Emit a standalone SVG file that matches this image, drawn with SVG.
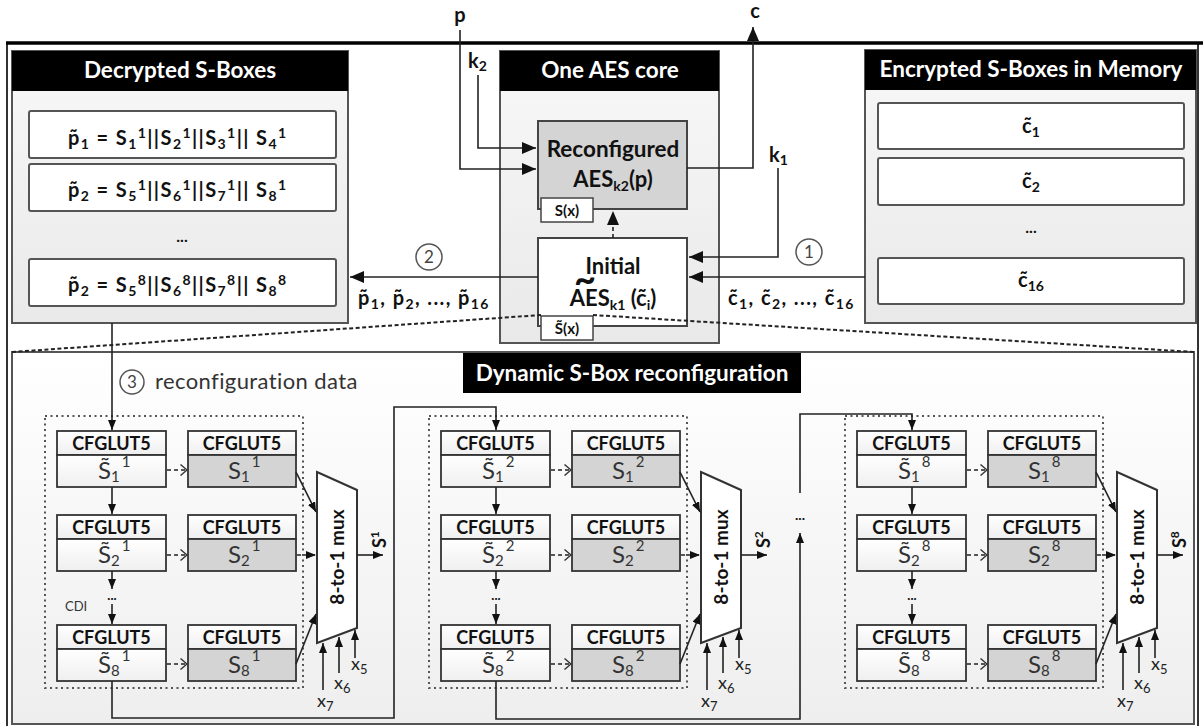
<svg xmlns="http://www.w3.org/2000/svg" width="1203" height="726" viewBox="0 0 1203 726">
<defs>
<linearGradient id="gp" x1="0" y1="0" x2="0" y2="1"><stop offset="0" stop-color="#f8f8f8"/><stop offset="1" stop-color="#e9e9e9"/></linearGradient>
<linearGradient id="gb" x1="0" y1="0" x2="0" y2="1"><stop offset="0" stop-color="#ffffff"/><stop offset="1" stop-color="#eeeeee"/></linearGradient>
<linearGradient id="gw" x1="0" y1="0" x2="0" y2="1"><stop offset="0" stop-color="#ffffff"/><stop offset="1" stop-color="#efefef"/></linearGradient>
<marker id="aL" viewBox="0 0 14 12" refX="14" refY="6" markerWidth="14" markerHeight="12" markerUnits="userSpaceOnUse" orient="auto"><path d="M0,0 L14,6 L0,12 z" fill="#111"/></marker>
<marker id="aS" viewBox="0 0 10 8" refX="10" refY="4" markerWidth="10" markerHeight="8" markerUnits="userSpaceOnUse" orient="auto"><path d="M0,0 L10,4 L0,8 z" fill="#111"/></marker>
<marker id="aO" viewBox="0 0 8 12" refX="7" refY="6" markerWidth="8" markerHeight="12" markerUnits="userSpaceOnUse" orient="auto"><path d="M0.5,0.5 L7,6 L0.5,11.5" fill="none" stroke="#333" stroke-width="1.4"/></marker>
<style>
.pan{fill:url(#gp);stroke:#555;stroke-width:2}
.bot{fill:url(#gb);stroke:#555;stroke-width:2}
.hd{fill:#000}
.ht{font-family:Lato,"Liberation Sans",sans-serif;font-weight:700;font-size:22.5px;fill:#fff;text-anchor:middle}
.row{fill:#fff;stroke:#555;stroke-width:2}
.bt{font-family:Lato,"Liberation Sans",sans-serif;font-weight:700;fill:#111}
.fm{font-size:20px;letter-spacing:1.4px}
.m{text-anchor:middle}
.sb{font-size:14px}
.ln{fill:none;stroke:#222;stroke-width:1.6}
.dl{fill:none;stroke:#222;stroke-width:1.6;stroke-dasharray:4 3}
.zl{fill:none;stroke:#222;stroke-width:2;stroke-dasharray:4 2.5}
.dot{fill:none;stroke:#555;stroke-width:2;stroke-dasharray:2 3.5}
.lw{fill:url(#gw);stroke:#333;stroke-width:1.8}
.lg{fill:#d4d4d4;stroke:#333;stroke-width:1.8}
.cfg{font-family:Lato,"Liberation Sans",sans-serif;font-weight:700;font-size:18px;fill:#111;text-anchor:middle}
.mx{font-family:Lato,"Liberation Sans",sans-serif;font-weight:700;font-size:19px;fill:#111;text-anchor:middle}
.sv{font-family:Lato,"Liberation Sans",sans-serif;font-weight:400;font-size:24px;fill:#333}
.ss{font-size:15px}
.mux{fill:#fff;stroke:#333;stroke-width:2}
.xl{font-family:Lato,"Liberation Sans",sans-serif;font-size:18px;fill:#222}
.xs{font-size:13px}
.cn{fill:#fff;stroke:#555;stroke-width:1.5}
.cd{font-family:Lato,"Liberation Sans",sans-serif;font-size:17px;fill:#444;text-anchor:middle}
.rg{font-family:Lato,"Liberation Sans",sans-serif;fill:#333}
</style>
</defs>

<!-- outer frame -->
<path d="M7,726 V43 M1198,43 V726" fill="none" stroke="#333" stroke-width="2"/>
<path d="M6,43 H1203" stroke="#000" stroke-width="3.5"/>

<g id="decrypted">
<rect class="pan" x="12" y="51" width="336" height="272"/>
<rect class="hd" x="12" y="51" width="336" height="40"/>
<text class="ht" x="180" y="78">Decrypted S-Boxes</text>
<rect class="row" x="29" y="111" width="307" height="47" rx="2"/>
<rect class="row" x="29" y="164" width="307" height="47" rx="2"/>
<rect class="row" x="29" y="259" width="307" height="47" rx="2"/>
<text class="bt fm" x="68" y="145">p&#x303;<tspan class="sb" dy="4">1</tspan><tspan dy="-4"> = S</tspan><tspan class="sb" dy="4">1</tspan><tspan class="sb" dy="-11">1</tspan><tspan dy="7">||S</tspan><tspan class="sb" dy="4">2</tspan><tspan class="sb" dy="-11">1</tspan><tspan dy="7">||S</tspan><tspan class="sb" dy="4">3</tspan><tspan class="sb" dy="-11">1</tspan><tspan dy="7">|| S</tspan><tspan class="sb" dy="4">4</tspan><tspan class="sb" dy="-11">1</tspan></text>
<text class="bt fm" x="68" y="197">p&#x303;<tspan class="sb" dy="4">2</tspan><tspan dy="-4"> = S</tspan><tspan class="sb" dy="4">5</tspan><tspan class="sb" dy="-11">1</tspan><tspan dy="7">||S</tspan><tspan class="sb" dy="4">6</tspan><tspan class="sb" dy="-11">1</tspan><tspan dy="7">||S</tspan><tspan class="sb" dy="4">7</tspan><tspan class="sb" dy="-11">1</tspan><tspan dy="7">|| S</tspan><tspan class="sb" dy="4">8</tspan><tspan class="sb" dy="-11">1</tspan></text>
<text class="bt m" x="182" y="242" font-size="16">...</text>
<text class="bt fm" x="68" y="292">p&#x303;<tspan class="sb" dy="4">2</tspan><tspan dy="-4"> = S</tspan><tspan class="sb" dy="4">5</tspan><tspan class="sb" dy="-11">8</tspan><tspan dy="7">||S</tspan><tspan class="sb" dy="4">6</tspan><tspan class="sb" dy="-11">8</tspan><tspan dy="7">||S</tspan><tspan class="sb" dy="4">7</tspan><tspan class="sb" dy="-11">8</tspan><tspan dy="7">|| S</tspan><tspan class="sb" dy="4">8</tspan><tspan class="sb" dy="-11">8</tspan></text>
</g>

<g id="aescore">
<rect class="pan" x="500" y="51" width="219" height="292"/>
<rect class="hd" x="500" y="51" width="219" height="40"/>
<text class="ht" x="610" y="78">One AES core</text>
</g>

<g id="reconfigured">
<rect x="538" y="121" width="149" height="88" fill="#d4d4d4" stroke="#444" stroke-width="2"/>
<text class="bt m" x="613" y="157" font-size="22.5">Reconfigured</text>
<text class="bt m" x="613" y="187" font-size="22">AES<tspan class="sb" dy="4">k2</tspan><tspan dy="-4">(p)</tspan></text>
<rect x="541" y="198" width="52" height="24" fill="#fff" stroke="#444" stroke-width="1.5"/>
<text class="bt m" x="567" y="216" font-size="15" fill="#222">S(x)</text>
</g>

<g id="initial">
<rect x="538" y="238" width="149" height="88" fill="#fff" stroke="#444" stroke-width="2"/>
<text class="bt m" x="613" y="274" font-size="22">Initial</text>
<text class="bt m" x="585" y="293" font-size="38">~</text>
<text class="bt m" x="613" y="306" font-size="22">AES<tspan class="sb" dy="4">k1</tspan><tspan dy="-4"> (c&#x303;</tspan><tspan class="sb" dy="4">i</tspan><tspan dy="-4">)</tspan></text>
<rect x="541" y="316" width="52" height="24" fill="#fff" stroke="#444" stroke-width="1.5"/>
<text class="bt m" x="567" y="334" font-size="15" fill="#222">S&#x303;(x)</text>
</g>

<g id="encrypted">
<rect class="pan" x="865" y="50" width="331" height="273"/>
<rect class="hd" x="865" y="50" width="331" height="40"/>
<text class="ht" x="1031" y="77">Encrypted S-Boxes in Memory</text>
<rect class="row" x="878" y="103" width="306" height="46" rx="2"/>
<rect class="row" x="878" y="158" width="306" height="47" rx="2"/>
<rect class="row" x="878" y="258" width="306" height="46" rx="2"/>
<text class="bt m" x="1031" y="133" font-size="20">c&#x303;<tspan class="sb" dy="4">1</tspan></text>
<text class="bt m" x="1031" y="188" font-size="20">c&#x303;<tspan class="sb" dy="4">2</tspan></text>
<text class="bt m" x="1031" y="233" font-size="16">...</text>
<text class="bt m" x="1031" y="287" font-size="20">c&#x303;<tspan class="sb" dy="4">16</tspan></text>
</g>

<g id="dynamic">
<rect class="bot" x="12" y="352" width="1182" height="372"/>
<rect class="hd" x="463" y="353" width="338" height="40"/>
<text class="ht" x="632" y="381">Dynamic S-Box reconfiguration</text>
</g>

<g id="labels">
<text class="bt m" x="460" y="22" font-size="20">p</text>
<text class="bt" x="468" y="68" font-size="20">k<tspan class="sb" dy="3">2</tspan></text>
<text class="bt m" x="755" y="18" font-size="20">c</text>
<text class="bt" x="769" y="162" font-size="20">k<tspan class="sb" dy="3">1</tspan></text>
<circle class="cn" cx="809" cy="252" r="13"/><text class="cd" x="809" y="258">1</text>
<circle class="cn" cx="429" cy="257" r="13"/><text class="cd" x="429" y="263">2</text>
<text class="bt fm" x="358" y="305">p&#x303;<tspan class="sb" dy="4">1</tspan><tspan dy="-4">, p&#x303;</tspan><tspan class="sb" dy="4">2</tspan><tspan dy="-4">, ..., p&#x303;</tspan><tspan class="sb" dy="4">16</tspan></text>
<text class="bt fm" x="728" y="305">c&#x303;<tspan class="sb" dy="4">1</tspan><tspan dy="-4">, c&#x303;</tspan><tspan class="sb" dy="4">2</tspan><tspan dy="-4">, ..., c&#x303;</tspan><tspan class="sb" dy="4">16</tspan></text>
<circle class="cn" cx="132" cy="382" r="12"/><text class="cd" x="132" y="388">3</text>
<text class="rg" x="155" y="389" font-size="22" letter-spacing="0.4">reconfiguration data</text>
</g>

<!-- stage 1 -->
<g id="stage1">
<rect class="dot" x="45" y="416" width="258" height="272"/>
<g id="s1-a1"><rect class="lw" x="57" y="431" width="109" height="24"/><rect class="lw" x="57" y="455" width="109" height="32"/><text class="cfg" x="111.5" y="450">CFGLUT5</text><text class="sv" x="98" y="479">S&#x303;<tspan class="ss" dy="3">1</tspan><tspan class="ss" dx="2" dy="-15">1</tspan></text></g>
<g id="s1-b1"><rect class="lw" x="188" y="431" width="108" height="24"/><rect class="lg" x="188" y="455" width="108" height="32"/><text class="cfg" x="242" y="450">CFGLUT5</text><text class="sv" x="228" y="479">S<tspan class="ss" dy="3">1</tspan><tspan class="ss" dx="2" dy="-15">1</tspan></text></g>
<g id="s1-a2"><rect class="lw" x="57" y="515" width="109" height="24"/><rect class="lw" x="57" y="539" width="109" height="32"/><text class="cfg" x="111.5" y="534">CFGLUT5</text><text class="sv" x="98" y="563">S&#x303;<tspan class="ss" dy="3">2</tspan><tspan class="ss" dx="2" dy="-15">1</tspan></text></g>
<g id="s1-b2"><rect class="lw" x="188" y="515" width="108" height="24"/><rect class="lg" x="188" y="539" width="108" height="32"/><text class="cfg" x="242" y="534">CFGLUT5</text><text class="sv" x="228" y="563">S<tspan class="ss" dy="3">2</tspan><tspan class="ss" dx="2" dy="-15">1</tspan></text></g>
<g id="s1-a8"><rect class="lw" x="57" y="625" width="109" height="24"/><rect class="lw" x="57" y="649" width="109" height="32"/><text class="cfg" x="111.5" y="644">CFGLUT5</text><text class="sv" x="98" y="673">S&#x303;<tspan class="ss" dy="3">8</tspan><tspan class="ss" dx="2" dy="-15">1</tspan></text></g>
<g id="s1-b8"><rect class="lw" x="188" y="625" width="108" height="24"/><rect class="lg" x="188" y="649" width="108" height="32"/><text class="cfg" x="242" y="644">CFGLUT5</text><text class="sv" x="228" y="673">S<tspan class="ss" dy="3">8</tspan><tspan class="ss" dx="2" dy="-15">1</tspan></text></g>
<g id="s1-mux"><polygon class="mux" points="317,472 357,490 357,628 317,643"/><text class="mx" transform="translate(344,557) rotate(-90)">8-to-1 mux</text></g>
<text class="bt" font-size="18" transform="translate(386,548) rotate(-90)">S<tspan font-size="12" dy="-7">1</tspan></text>
<text class="xl" x="351" y="670">x<tspan class="xs" dy="4">5</tspan></text>
<text class="xl" x="334" y="689">x<tspan class="xs" dy="4">6</tspan></text>
<text class="xl" x="317" y="707">x<tspan class="xs" dy="4">7</tspan></text>
<text class="rg" x="65" y="611" font-size="13" fill="#555">CDI</text>
</g>

<!-- stage 2 -->
<g id="stage2" transform="translate(384,0)">
<rect class="dot" x="45" y="416" width="258" height="272"/>
<g id="s2-a1"><rect class="lw" x="57" y="431" width="109" height="24"/><rect class="lw" x="57" y="455" width="109" height="32"/><text class="cfg" x="111.5" y="450">CFGLUT5</text><text class="sv" x="98" y="479">S&#x303;<tspan class="ss" dy="3">1</tspan><tspan class="ss" dx="2" dy="-15">2</tspan></text></g>
<g id="s2-b1"><rect class="lw" x="188" y="431" width="108" height="24"/><rect class="lg" x="188" y="455" width="108" height="32"/><text class="cfg" x="242" y="450">CFGLUT5</text><text class="sv" x="228" y="479">S<tspan class="ss" dy="3">1</tspan><tspan class="ss" dx="2" dy="-15">2</tspan></text></g>
<g id="s2-a2"><rect class="lw" x="57" y="515" width="109" height="24"/><rect class="lw" x="57" y="539" width="109" height="32"/><text class="cfg" x="111.5" y="534">CFGLUT5</text><text class="sv" x="98" y="563">S&#x303;<tspan class="ss" dy="3">2</tspan><tspan class="ss" dx="2" dy="-15">2</tspan></text></g>
<g id="s2-b2"><rect class="lw" x="188" y="515" width="108" height="24"/><rect class="lg" x="188" y="539" width="108" height="32"/><text class="cfg" x="242" y="534">CFGLUT5</text><text class="sv" x="228" y="563">S<tspan class="ss" dy="3">2</tspan><tspan class="ss" dx="2" dy="-15">2</tspan></text></g>
<g id="s2-a8"><rect class="lw" x="57" y="625" width="109" height="24"/><rect class="lw" x="57" y="649" width="109" height="32"/><text class="cfg" x="111.5" y="644">CFGLUT5</text><text class="sv" x="98" y="673">S&#x303;<tspan class="ss" dy="3">8</tspan><tspan class="ss" dx="2" dy="-15">2</tspan></text></g>
<g id="s2-b8"><rect class="lw" x="188" y="625" width="108" height="24"/><rect class="lg" x="188" y="649" width="108" height="32"/><text class="cfg" x="242" y="644">CFGLUT5</text><text class="sv" x="228" y="673">S<tspan class="ss" dy="3">8</tspan><tspan class="ss" dx="2" dy="-15">2</tspan></text></g>
<g id="s2-mux"><polygon class="mux" points="317,472 357,490 357,628 317,643"/><text class="mx" transform="translate(344,557) rotate(-90)">8-to-1 mux</text></g>
<text class="bt" font-size="18" transform="translate(386,548) rotate(-90)">S<tspan font-size="12" dy="-7">2</tspan></text>
<text class="xl" x="351" y="670">x<tspan class="xs" dy="4">5</tspan></text>
<text class="xl" x="334" y="689">x<tspan class="xs" dy="4">6</tspan></text>
<text class="xl" x="317" y="707">x<tspan class="xs" dy="4">7</tspan></text>
</g>

<!-- stage 8 -->
<g id="stage8" transform="translate(800,0)">
<rect class="dot" x="45" y="416" width="258" height="272"/>
<g id="s8-a1"><rect class="lw" x="57" y="431" width="109" height="24"/><rect class="lw" x="57" y="455" width="109" height="32"/><text class="cfg" x="111.5" y="450">CFGLUT5</text><text class="sv" x="98" y="479">S&#x303;<tspan class="ss" dy="3">1</tspan><tspan class="ss" dx="2" dy="-15">8</tspan></text></g>
<g id="s8-b1"><rect class="lw" x="188" y="431" width="108" height="24"/><rect class="lg" x="188" y="455" width="108" height="32"/><text class="cfg" x="242" y="450">CFGLUT5</text><text class="sv" x="228" y="479">S<tspan class="ss" dy="3">1</tspan><tspan class="ss" dx="2" dy="-15">8</tspan></text></g>
<g id="s8-a2"><rect class="lw" x="57" y="515" width="109" height="24"/><rect class="lw" x="57" y="539" width="109" height="32"/><text class="cfg" x="111.5" y="534">CFGLUT5</text><text class="sv" x="98" y="563">S&#x303;<tspan class="ss" dy="3">2</tspan><tspan class="ss" dx="2" dy="-15">8</tspan></text></g>
<g id="s8-b2"><rect class="lw" x="188" y="515" width="108" height="24"/><rect class="lg" x="188" y="539" width="108" height="32"/><text class="cfg" x="242" y="534">CFGLUT5</text><text class="sv" x="228" y="563">S<tspan class="ss" dy="3">2</tspan><tspan class="ss" dx="2" dy="-15">8</tspan></text></g>
<g id="s8-a8"><rect class="lw" x="57" y="625" width="109" height="24"/><rect class="lw" x="57" y="649" width="109" height="32"/><text class="cfg" x="111.5" y="644">CFGLUT5</text><text class="sv" x="98" y="673">S&#x303;<tspan class="ss" dy="3">8</tspan><tspan class="ss" dx="2" dy="-15">8</tspan></text></g>
<g id="s8-b8"><rect class="lw" x="188" y="625" width="108" height="24"/><rect class="lg" x="188" y="649" width="108" height="32"/><text class="cfg" x="242" y="644">CFGLUT5</text><text class="sv" x="228" y="673">S<tspan class="ss" dy="3">8</tspan><tspan class="ss" dx="2" dy="-15">8</tspan></text></g>
<g id="s8-mux"><polygon class="mux" points="317,472 357,490 357,628 317,643"/><text class="mx" transform="translate(344,557) rotate(-90)">8-to-1 mux</text></g>
<text class="bt" font-size="18" transform="translate(386,548) rotate(-90)">S<tspan font-size="12" dy="-7">8</tspan></text>
<text class="xl" x="351" y="670">x<tspan class="xs" dy="4">5</tspan></text>
<text class="xl" x="334" y="689">x<tspan class="xs" dy="4">6</tspan></text>
<text class="xl" x="317" y="707">x<tspan class="xs" dy="4">7</tspan></text>
</g>

<g id="connectors">
<path class="ln" d="M460,30 V169 H536" marker-end="url(#aL)"/>
<path class="ln" d="M478,75 V148 H536" marker-end="url(#aL)"/>
<path class="ln" d="M687,168 H753 V27" marker-end="url(#aL)"/>
<path class="ln" d="M778,168 V257 H689" marker-end="url(#aL)"/>
<path class="ln" d="M865,277 H689" marker-end="url(#aL)"/>
<path class="ln" d="M538,277 H350" marker-end="url(#aL)"/>
<path class="dl" d="M613,238 V211" marker-end="url(#aL)"/>
<path class="zl" d="M12,352 L541,315"/>
<path class="zl" d="M593,315 L1194,352"/>
<path class="ln" d="M112,323 V430" marker-end="url(#aS)"/>
<path class="ln" d="M112,681 V718 H394 V407 H496 V430" marker-end="url(#aS)"/>
<path class="ln" d="M496,681 V719 H800 V533" marker-end="url(#aS)"/>
<text class="bt m" x="800" y="520" font-size="14">...</text>
<path class="ln" d="M800,493 V414 H912 V430" marker-end="url(#aS)"/>
<g id="stage-links-1">
<path class="ln" d="M112,487 V514" marker-end="url(#aS)"/>
<path class="ln" d="M112,571 V589" marker-end="url(#aS)"/>
<text class="bt m" x="112" y="600" font-size="13">...</text>
<path class="ln" d="M112,604 V624" marker-end="url(#aS)"/>
<path class="dl" d="M167,470 H187" marker-end="url(#aO)"/>
<path class="dl" d="M167,555 H187" marker-end="url(#aO)"/>
<path class="dl" d="M167,664 H187" marker-end="url(#aO)"/>
<path class="ln" d="M296,472 L316,512" marker-end="url(#aS)"/>
<path class="dl" d="M297,555 H316" marker-end="url(#aS)"/>
<path class="ln" d="M296,664 L316,614" marker-end="url(#aS)"/>
<path class="ln" d="M357,555 H383" marker-end="url(#aS)"/>
<path class="ln" d="M323,690 V643" marker-end="url(#aS)"/>
<path class="ln" d="M339,673 V637" marker-end="url(#aS)"/>
<path class="ln" d="M355,658 V630" marker-end="url(#aS)"/>
</g>
<g id="stage-links-2" transform="translate(384,0)">
<path class="ln" d="M112,487 V514" marker-end="url(#aS)"/>
<path class="ln" d="M112,571 V589" marker-end="url(#aS)"/>
<text class="bt m" x="112" y="600" font-size="13">...</text>
<path class="ln" d="M112,604 V624" marker-end="url(#aS)"/>
<path class="dl" d="M167,470 H187" marker-end="url(#aO)"/>
<path class="dl" d="M167,555 H187" marker-end="url(#aO)"/>
<path class="dl" d="M167,664 H187" marker-end="url(#aO)"/>
<path class="ln" d="M296,472 L316,512" marker-end="url(#aS)"/>
<path class="dl" d="M297,555 H316" marker-end="url(#aS)"/>
<path class="ln" d="M296,664 L316,614" marker-end="url(#aS)"/>
<path class="ln" d="M357,555 H383" marker-end="url(#aS)"/>
<path class="ln" d="M323,690 V643" marker-end="url(#aS)"/>
<path class="ln" d="M339,673 V637" marker-end="url(#aS)"/>
<path class="ln" d="M355,658 V630" marker-end="url(#aS)"/>
</g>
<g id="stage-links-8" transform="translate(800,0)">
<path class="ln" d="M112,487 V514" marker-end="url(#aS)"/>
<path class="ln" d="M112,571 V589" marker-end="url(#aS)"/>
<text class="bt m" x="112" y="600" font-size="13">...</text>
<path class="ln" d="M112,604 V624" marker-end="url(#aS)"/>
<path class="dl" d="M167,470 H187" marker-end="url(#aO)"/>
<path class="dl" d="M167,555 H187" marker-end="url(#aO)"/>
<path class="dl" d="M167,664 H187" marker-end="url(#aO)"/>
<path class="ln" d="M296,472 L316,512" marker-end="url(#aS)"/>
<path class="dl" d="M297,555 H316" marker-end="url(#aS)"/>
<path class="ln" d="M296,664 L316,614" marker-end="url(#aS)"/>
<path class="ln" d="M357,555 H383" marker-end="url(#aS)"/>
<path class="ln" d="M323,690 V643" marker-end="url(#aS)"/>
<path class="ln" d="M339,673 V637" marker-end="url(#aS)"/>
<path class="ln" d="M355,658 V630" marker-end="url(#aS)"/>
</g>
</g>
</svg>
